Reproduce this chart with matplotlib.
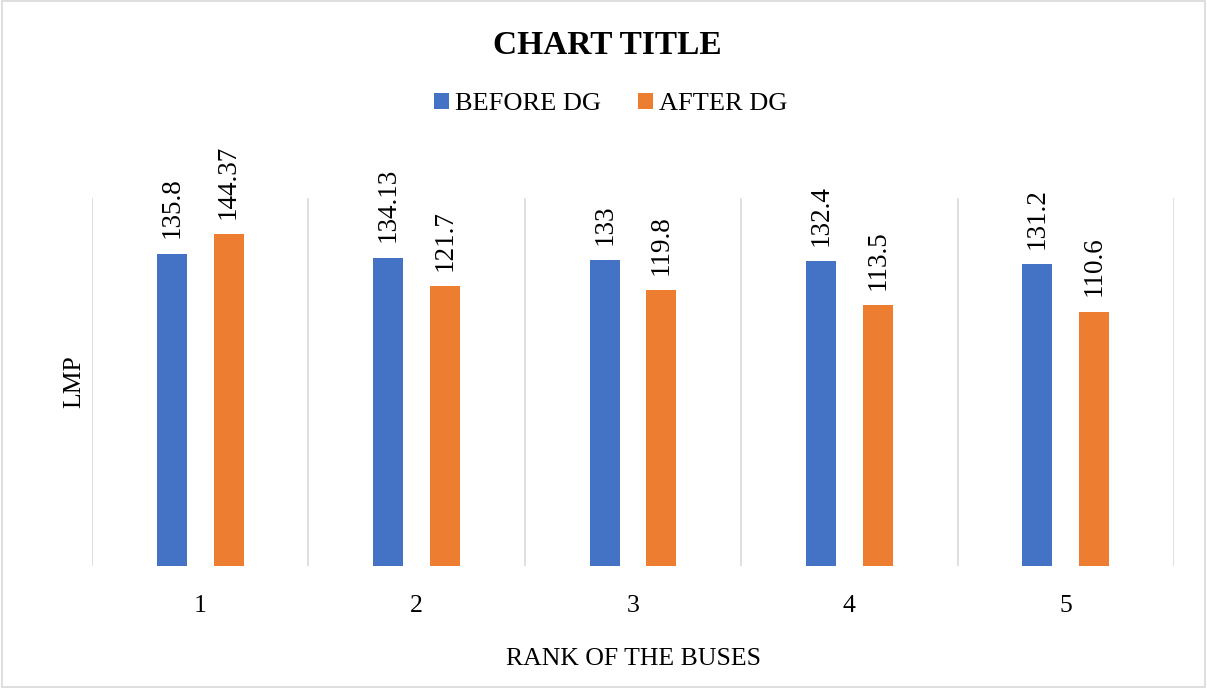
import numpy as np
import matplotlib
matplotlib.use("Agg")
import matplotlib.pyplot as plt
from matplotlib.patches import Rectangle

plt.rcParams['font.family'] = ['Liberation Serif', 'DejaVu Serif']

ranks = ['1', '2', '3', '4', '5']
before_dg = [135.8, 134.13, 133, 132.4, 131.2]
after_dg = [144.37, 121.7, 119.8, 113.5, 110.6]
before_labels = ['135.8', '134.13', '133', '132.4', '131.2']
after_labels = ['144.37', '121.7', '119.8', '113.5', '110.6']

blue = '#4472C4'
orange = '#ED7D31'

fig = plt.figure(figsize=(12.07, 6.88), dpi=100)
W, H = 1207, 688
ax = fig.add_axes([92 / W, (H - 566) / H, (1174 - 92) / W, (566 - 198) / H])

x = np.arange(len(ranks))
bw = 0.139
off = 0.131
b1 = ax.bar(x - off, before_dg, bw, color=blue, label='BEFORE DG', zorder=3)
b2 = ax.bar(x + off, after_dg, bw, color=orange, label='AFTER DG', zorder=3)

# rotated value labels above each bar
for bars, labels in ((b1, before_labels), (b2, after_labels)):
    for rect, lab in zip(bars, labels):
        ax.annotate(lab, (rect.get_x() + rect.get_width() / 2, rect.get_height()),
                    xytext=(0, 11), textcoords='offset points',
                    rotation=90, ha='center', va='bottom', fontsize=19.5)

ax.set_xlim(-0.5, len(ranks) - 0.5)
ax.set_ylim(0, 160)
ax.set_xticks(x)
ax.set_xticklabels(ranks, fontsize=18.5)
ax.tick_params(axis='x', length=0, pad=21)
ax.set_yticks([])
for xb in np.arange(-0.5, len(ranks), 1.0):
    ax.axvline(xb, color='#D9D9D9', lw=1.2, zorder=1)
for s in ax.spines.values():
    s.set_visible(False)

ax.set_xlabel('RANK OF THE BUSES', fontsize=18.5, labelpad=22)
ax.set_ylabel('LMP', fontsize=18.5, labelpad=5)

fig.text(607 / W, (H - 46) / H, 'CHART TITLE', ha='center', va='center',
         fontsize=24, fontweight='bold')

fig.legend(handles=[b1, b2], loc='center', bbox_to_anchor=(611 / W, (H - 104) / H),
           ncol=2, frameon=False, fontsize=19, handlelength=0.55, handleheight=0.55,
           handletextpad=0.25, columnspacing=1.4, borderpad=0)

fig.patches.append(Rectangle((0.002, 0.002), 0.996, 0.996, transform=fig.transFigure,
                             fill=False, edgecolor='#D9D9D9', lw=1.2))

fig.savefig('out.png', dpi=100)
